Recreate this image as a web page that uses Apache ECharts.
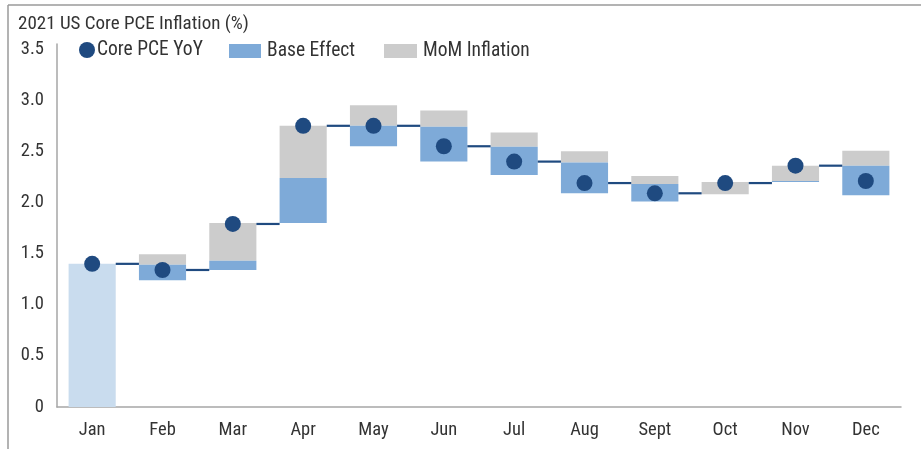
<!DOCTYPE html>
<html>
<head>
<meta charset="utf-8">
<script src="https://cdn.jsdelivr.net/npm/echarts@6/dist/echarts.min.js"></script>
<style>
html,body{margin:0;padding:0;background:#fff;}
#chart{width:921px;height:449px;}
</style>
</head>
<body>
<div id="chart"></div>
<script>
var months = ['Jan','Feb','Mar','Apr','May','Jun','Jul','Aug','Sept','Oct','Nov','Dec'];
var yoy      = [1.40, 1.34, 1.79, 2.75, 2.75, 2.55, 2.40, 2.19, 2.09, 2.19, 2.36, 2.21];
var startLvl = [1.40, null, null, null, null, null, null, null, null, null, null, null];
var blueLow  = [null, 1.24, 1.34, 1.80, 2.55, 2.40, 2.27, 2.09, 2.01, 2.08, 2.20, 2.07];
var blueHigh = [null, 1.39, 1.43, 2.24, 2.75, 2.74, 2.545, 2.39, 2.18, 2.08, 2.21, 2.36];
var grayLow  = [null, 1.39, 1.43, 2.24, 2.75, 2.74, 2.545, 2.39, 2.18, 2.08, 2.21, 2.36];
var grayHigh = [null, 1.495, 1.80, 2.75, 2.95, 2.90, 2.685, 2.50, 2.26, 2.20, 2.36, 2.505];
var yTicks = [0, 0.5, 1.0, 1.5, 2.0, 2.5, 3.0, 3.5];

var FONT = "'Roboto Condensed', Roboto, sans-serif";
var NAVY = '#1f4a80', BLUE = '#7eaad8', GRAY = '#cccccc', LIGHT = '#c9dcee';
var BARFRAC = 0.67;
var BW = (BARFRAC * 100) + '%';

function diff(hi, lo){ return hi.map(function(v,i){ return (v==null||lo[i]==null)?null:+(v-lo[i]).toFixed(4); }); }

var connData = [];
for (var i = 1; i < yoy.length; i++) connData.push([i, yoy[i-1]]);

var chart = echarts.init(document.getElementById('chart'));
chart.setOption({
  animation: false,
  textStyle: {fontFamily: FONT},
  title: {text: '2021 US Core PCE Inflation (%)', left: 13, top: 10,
    textStyle: {fontFamily: FONT, fontSize: 19, fontWeight: 'normal', color: '#333'}},
  legend: [
    {data: ['Core PCE YoY'], left: 74, top: 35, itemWidth: 16, itemHeight: 16, icon: 'circle',
      textStyle: {fontFamily: FONT, fontSize: 19.5, color: '#333', padding: [0,0,0,-3]}},
    {data: ['Base Effect'], left: 224, top: 36, itemWidth: 32, itemHeight: 14, icon: 'rect',
      textStyle: {fontFamily: FONT, fontSize: 19.5, color: '#333', padding: [0,0,0,1]}},
    {data: ['MoM Inflation'], left: 379, top: 36, itemWidth: 33, itemHeight: 14, icon: 'rect',
      textStyle: {fontFamily: FONT, fontSize: 19.5, color: '#333', padding: [0,0,0,1]}}
  ],
  graphic: [
    {type: 'line', shape: {x1: 8, y1: 5, x2: 921, y2: 5}, style: {stroke: '#9a9a9a', lineWidth: 1.5}},
    {type: 'line', shape: {x1: 8, y1: 5, x2: 8, y2: 449}, style: {stroke: '#9a9a9a', lineWidth: 1.5}}
  ],
  grid: {left: 57, right: 20, top: 44, bottom: 42, containLabel: false},
  xAxis: {type: 'category', data: months,
    axisLine: {lineStyle: {color: '#a6a6a6', width: 1.5}},
    axisTick: {show: false},
    axisLabel: {fontFamily: FONT, fontSize: 18.5, color: '#333', margin: 14}},
  yAxis: {type: 'value', min: 0, max: 3.55, interval: 0.5,
    axisLine: {show: true, lineStyle: {color: '#a6a6a6', width: 1.5}},
    axisTick: {show: false}, splitLine: {show: false},
    axisLabel: {fontFamily: FONT, fontSize: 18.5, color: '#333', margin: 13, showMaxLabel: false,
      formatter: function(v){ return yTicks.indexOf(+v.toFixed(2)) < 0 ? '' : (v === 0 ? '0' : v.toFixed(1)); }}},
  series: [
    {type: 'bar', name: 'grayBase', stack: 'g', data: grayLow, barWidth: BW, barGap: '-100%',
      itemStyle: {color: 'transparent'}, silent: true},
    {type: 'bar', name: 'MoM Inflation', stack: 'g', data: diff(grayHigh, grayLow), barWidth: BW, barGap: '-100%',
      itemStyle: {color: GRAY}},
    {type: 'bar', name: 'blueBase', stack: 'b', data: blueLow, barWidth: BW, barGap: '-100%',
      itemStyle: {color: 'transparent'}, silent: true},
    {type: 'bar', name: 'Base Effect', stack: 'b', data: diff(blueHigh, blueLow), barWidth: BW, barGap: '-100%',
      itemStyle: {color: BLUE}},
    {type: 'bar', name: 'Start', stack: 's', data: startLvl, barWidth: BW, barGap: '-100%',
      itemStyle: {color: LIGHT}},
    {type: 'custom', name: 'connectors', silent: true, z: 3,
      data: connData,
      renderItem: function(params, api){
        var idx = api.value(0), lvl = api.value(1);
        var band = api.size([1, 0])[0];
        var half = band * BARFRAC / 2;
        var p0 = api.coord([idx - 1, lvl]);
        var p1 = api.coord([idx, lvl]);
        return {type: 'line', shape: {x1: p0[0] + half, y1: p0[1], x2: p1[0] - half, y2: p1[1]},
          style: {stroke: NAVY, lineWidth: 2.2}};
      }},
    {type: 'scatter', name: 'Core PCE YoY', data: yoy, symbol: 'circle', symbolSize: 16, z: 5,
      itemStyle: {color: NAVY, opacity: 1}}
  ]
});
</script>
</body>
</html>
